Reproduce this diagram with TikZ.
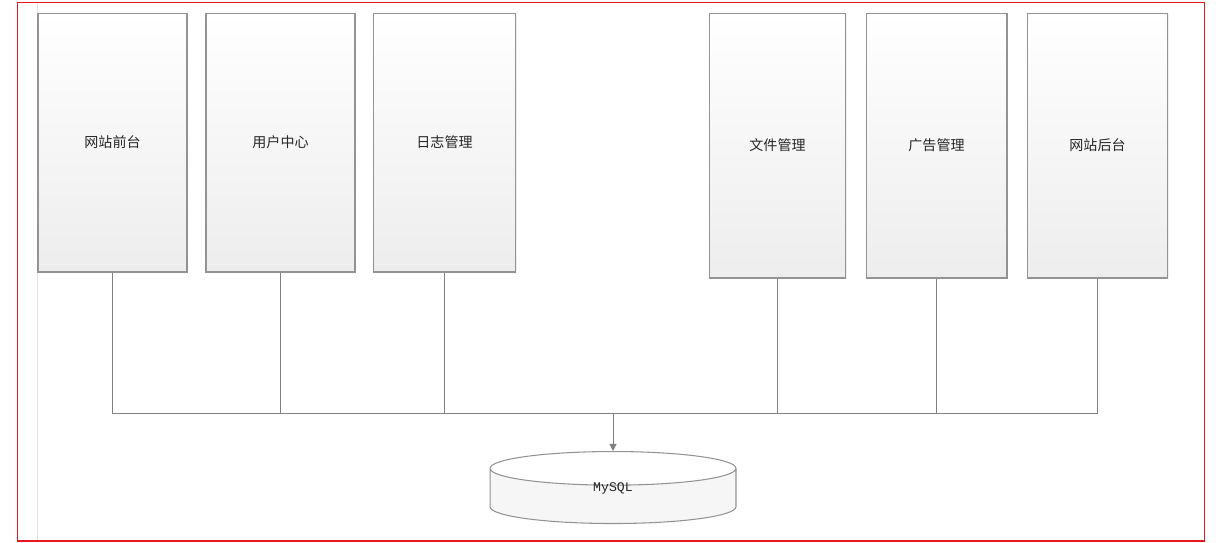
\documentclass[tikz,border=0pt]{standalone}
\usepackage{fontspec}
\newfontfamily\cjk{Noto Sans CJK SC}
\setmonofont{Liberation Mono}
\usetikzlibrary{shapes.geometric,arrows.meta,shadows}
\definecolor{frame}{RGB}{232,22,30}
\begin{document}
\begin{tikzpicture}[x=0.02cm, y=-0.02cm,
  module/.style={draw=gray!85, line width=0.6pt, top color=white, bottom color=gray!14, inner sep=0pt,
    text=black!85, font=\cjk\fontsize{8}{10}\selectfont,
    drop shadow={opacity=0.12, shadow xshift=0.8pt, shadow yshift=-0.8pt}},
  left/.style={module, minimum height=5.18cm},
  right/.style={module, minimum height=5.30cm},
  link/.style={draw=gray, line width=0.55pt}]
\useasboundingbox (0,0) rectangle (1219,542);
\draw[frame, line width=1.1pt] (17.5,2.5) rectangle (1204.5,541);
\draw[gray!20, line width=0.5pt] (37,3.5) -- (37,540);
% modules
\node[left, minimum width=2.98cm] (front) at (112.5,142.5) {网站前台};
\node[left, minimum width=2.98cm] (user) at (280.5,142.5) {用户中心};
\node[left, minimum width=2.84cm] (log) at (444.5,142.5) {日志管理};
\node[right, minimum width=2.72cm] (file) at (777.5,145.5) {文件管理};
\node[right, minimum width=2.82cm] (ad) at (936.5,145.5) {广告管理};
\node[right, minimum width=2.80cm] (back) at (1097.5,145.5) {网站后台};
% database
\node[cylinder, shape border rotate=90, aspect=0.85, draw=gray!85, line width=0.6pt,
  cylinder uses custom fill, cylinder end fill=white, cylinder body fill=gray!7,
  minimum width=4.92cm, minimum height=1.44cm, inner sep=0pt, text=black!85, anchor=north,
  font=\ttfamily\fontsize{7.5}{9}\selectfont] (db) at (613,451) {\raisebox{0.09cm}[0pt][0pt]{MySQL}};
\coordinate (bus) at (0,413.5);
\draw[link] (front.south) -- (front.south |- bus) -- (back.south |- bus) -- (back.south);
\draw[link] (user.south) -- (user.south |- bus) (log.south) -- (log.south |- bus);
\draw[link] (file.south) -- (file.south |- bus) (ad.south) -- (ad.south |- bus);
\draw[link, -{Triangle[length=4pt, width=4pt]}] (db.north |- bus) -- (db.north);
\end{tikzpicture}
\end{document}
